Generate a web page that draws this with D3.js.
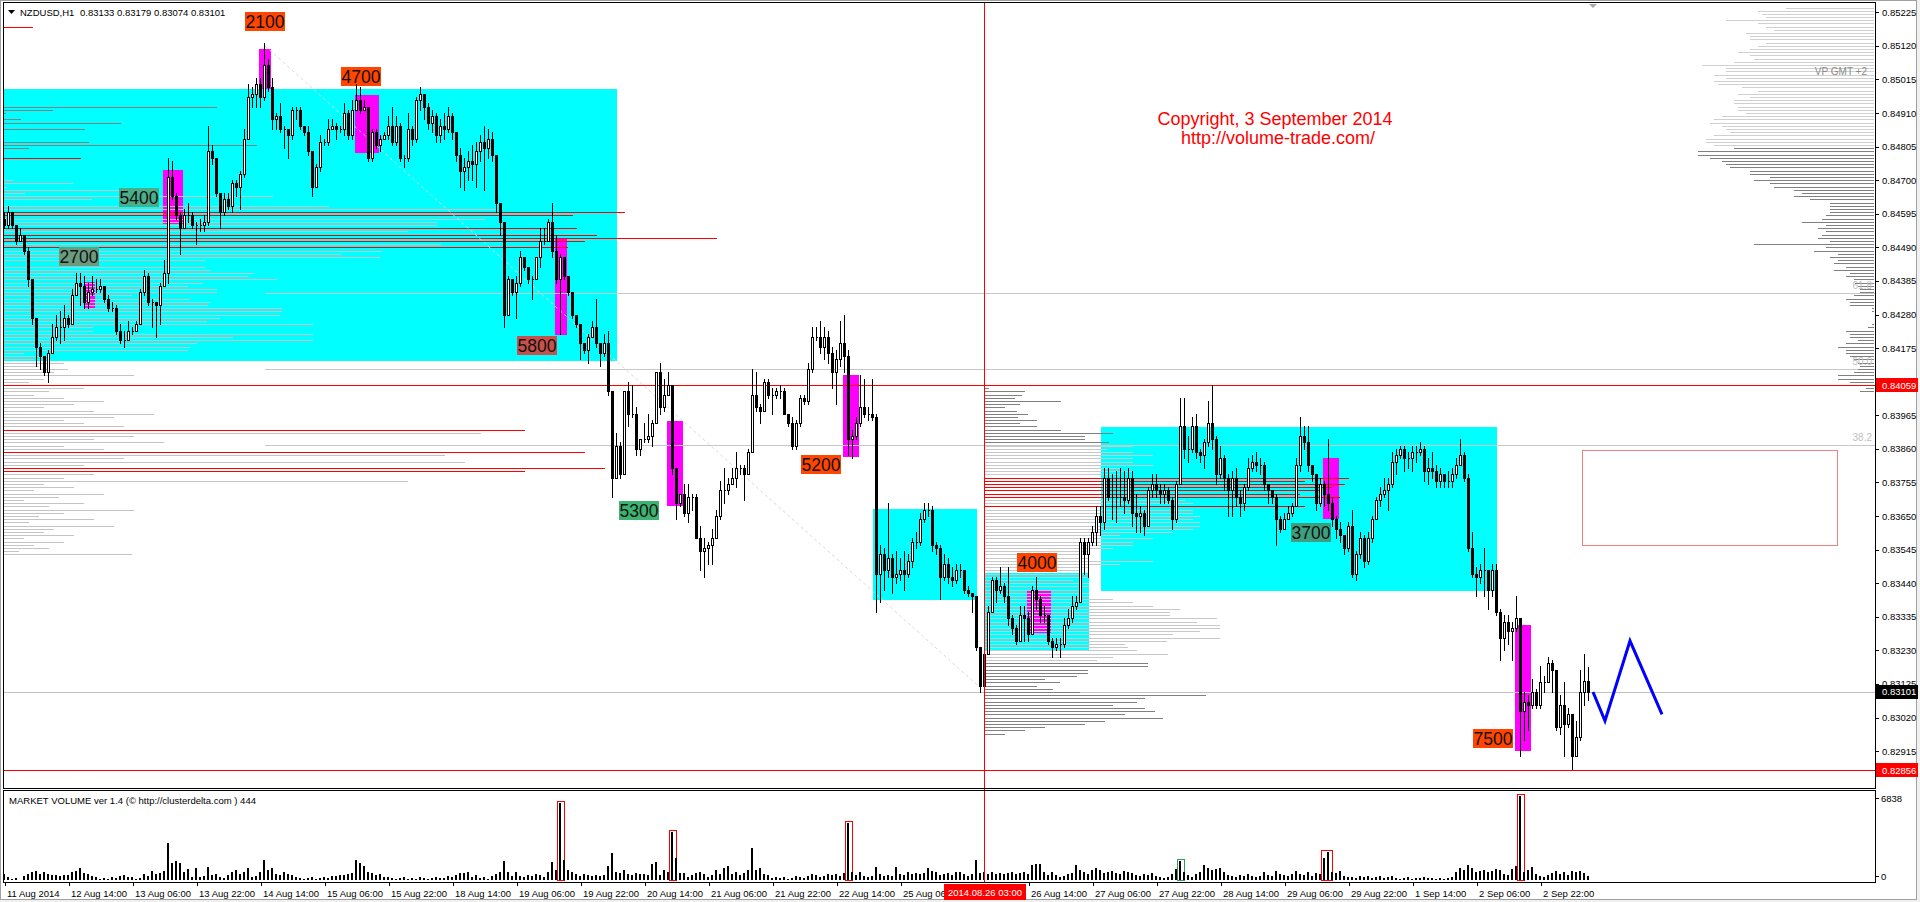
<!DOCTYPE html>
<html><head><meta charset="utf-8">
<script src="https://cdn.jsdelivr.net/npm/d3@7"></script>
<style>
html,body{margin:0;padding:0;background:#f0f0f0;overflow:hidden;}
svg{display:block;}
text{font-family:"Liberation Sans",Arial,sans-serif;}
</style></head><body>
<svg id="c" width="1920" height="902"></svg>
<script>
// ---------------- DATA ----------------
const symbolTitle = "NZDUSD,H1";
const lastOHLC = ["0.83133","0.83179","0.83074","0.83101"];
const firstOpen = 0.8458;
const closes = [
.8456,.8460,.8456,.8451,.8453,.8448,.8439,.8427,.8418,.8415,.8410,.8416,.8421,.8424,.8424,.8427,
.8425,.8434,.8438,.8437,.8432,.8435,.8436,.8436,.8437,.8433,.8430,.8430,.8423,.8420,.8420,.8423,
.8423,.8425,.8435,.8440,.8432,.8432,.8431,.8437,.8441,.8471,.8465,.8459,.8455,.8459,.8459,.8456,
.8456,.8456,.8457,.8479,.8477,.8466,.8460,.8464,.8462,.8469,.8468,.8472,.8483,.8496,.8497,.8500,
.8496,.8506,.8499,.8489,.8490,.8486,.8486,.8484,.8492,.8492,.8487,.8485,.8479,.8468,.8474,.8482,
.8482,.8486,.8487,.8486,.8486,.8491,.8484,.8492,.8495,.8492,.8493,.8477,.8485,.8481,.8483,.8484,
.8487,.8482,.8487,.8477,.8477,.8486,.8483,.8495,.8497,.8493,.8488,.8490,.8484,.8487,.8486,.8490,
.8485,.8478,.8473,.8474,.8476,.8475,.8479,.8482,.8480,.8483,.8478,.8463,.8457,.8428,.8439,.8435,
.8438,.8446,.8443,.8439,.8439,.8446,.8451,.8451,.8457,.8448,.8439,.8446,.8440,.8435,.8428,.8425,
.8419,.8417,.8421,.8424,.8419,.8416,.8419,.8404,.8377,.8387,.8378,.8404,.8397,.8397,.8386,.8389,
.8389,.8390,.8394,.8410,.8399,.8403,.8406,.8380,.8369,.8372,.8366,.8371,.8371,.8358,.8354,.8355,
.8356,.8358,.8365,.8373,.8373,.8375,.8377,.8380,.8380,.8378,.8385,.8403,.8399,.8398,.8407,.8403,
.8403,.8404,.8404,.8397,.8394,.8387,.8394,.8402,.8401,.8411,.8421,.8421,.8418,.8421,.8416,.8410,
.8414,.8419,.8415,.8389,.8390,.8394,.8399,.8397,.8397,.8396,.8347,.8353,.8348,.8352,.8346,.8347,
.8348,.8347,.8351,.8357,.8357,.8364,.8367,.8367,.8356,.8355,.8346,.8350,.8346,.8345,.8348,.8348,
.8342,.8341,.8340,.8324,.8312,.8322,.8335,.8345,.8342,.8343,.8340,.8333,.8330,.8326,.8334,.8333,
.8328,.8342,.8339,.8334,.8334,.8326,.8324,.8325,.8325,.8331,.8333,.8337,.8338,.8357,.8353,.8357,
.8360,.8365,.8363,.8377,.8371,.8371,.8371,.8371,.8370,.8377,.8366,.8365,.8366,.8362,.8373,.8375,
.8373,.8372,.8373,.8370,.8364,.8375,.8393,.8386,.8386,.8393,.8385,.8384,.8388,.8394,.8389,.8378,
.8383,.8377,.8373,.8377,.8371,.8369,.8374,.8380,.8382,.8381,.8381,.8375,.8373,.8371,.8364,.8361,
.8364,.8366,.8368,.8381,.8390,.8388,.8381,.8378,.8369,.8375,.8372,.8369,.8364,.8361,.8359,.8355,
.8362,.8347,.8353,.8358,.8351,.8358,.8364,.8370,.8372,.8373,.8375,.8382,.8384,.8386,.8383,.8383,
.8385,.8385,.8386,.8379,.8380,.8379,.8376,.8378,.8376,.8376,.8378,.8381,.8384,.8377,.8355,.8347,
.8346,.8348,.8348,.8342,.8348,.8335,.8327,.8332,.8329,.8330,.8333,.8304,.8307,.8306,.8310,.8306,
.8313,.8313,.8319,.8317,.8299,.8306,.8300,.8303,.8290,.8296,.8310,.83133,.83101];
const highs = [
.8460,.8462,.8459,.8456,.8455,.8453,.8449,.8439,.8427,.8419,.8415,.8417,.8425,.8428,.8429,.8431,
.8428,.8436,.8441,.8441,.8440,.8438,.8440,.8439,.8439,.8437,.8434,.8432,.8431,.8425,.8423,.8426,
.8424,.8426,.8436,.8442,.8441,.8433,.8432,.8438,.8445,.8477,.8476,.8466,.8460,.8461,.8463,.8460,
.8457,.8458,.8459,.8487,.8481,.8477,.8466,.8466,.8466,.8470,.8470,.8473,.8486,.8500,.8499,.8502,
.8502,.8513,.8508,.8502,.8491,.8494,.8487,.8486,.8493,.8493,.8493,.8487,.8487,.8479,.8475,.8484,
.8483,.8489,.8489,.8488,.8487,.8494,.8492,.8495,.8500,.8499,.8495,.8493,.8486,.8486,.8484,.8485,
.8490,.8493,.8490,.8488,.8478,.8491,.8487,.8496,.8499,.8496,.8494,.8492,.8491,.8489,.8491,.8493,
.8491,.8484,.8480,.8477,.8479,.8481,.8482,.8484,.8487,.8486,.8485,.8478,.8463,.8457,.8440,.8439,
.8440,.8448,.8446,.8443,.8440,.8446,.8455,.8455,.8458,.8463,.8453,.8447,.8446,.8440,.8435,.8428,
.8425,.8419,.8422,.8426,.8433,.8419,.8422,.8423,.8404,.8391,.8388,.8404,.8407,.8406,.8399,.8389,
.8394,.8397,.8395,.8410,.8413,.8408,.8410,.8406,.8380,.8372,.8375,.8375,.8372,.8372,.8362,.8358,
.8357,.8361,.8367,.8376,.8380,.8377,.8380,.8385,.8381,.8381,.8386,.8411,.8410,.8400,.8408,.8408,
.8405,.8405,.8406,.8405,.8397,.8396,.8395,.8403,.8403,.8413,.8424,.8424,.8426,.8424,.8423,.8418,
.8417,.8426,.8428,.8417,.8392,.8396,.8409,.8408,.8399,.8408,.8397,.8356,.8355,.8369,.8353,.8354,
.8352,.8354,.8353,.8358,.8360,.8366,.8369,.8369,.8368,.8357,.8356,.8353,.8352,.8349,.8350,.8350,
.8348,.8343,.8341,.8340,.8324,.8323,.8337,.8346,.8346,.8349,.8344,.8349,.8334,.8331,.8337,.8337,
.8335,.8343,.8346,.8340,.8337,.8334,.8327,.8327,.8327,.8333,.8336,.8340,.8340,.8358,.8358,.8358,
.8362,.8368,.8368,.8380,.8380,.8378,.8379,.8380,.8379,.8380,.8379,.8372,.8368,.8367,.8374,.8378,
.8378,.8375,.8375,.8374,.8371,.8376,.8402,.8402,.8390,.8396,.8397,.8386,.8389,.8401,.8406,.8390,
.8387,.8384,.8378,.8379,.8380,.8373,.8375,.8383,.8384,.8385,.8383,.8382,.8375,.8373,.8372,.8365,
.8366,.8368,.8369,.8383,.8396,.8393,.8393,.8381,.8378,.8377,.8376,.8389,.8371,.8365,.8363,.8359,
.8363,.8367,.8354,.8360,.8359,.8360,.8365,.8371,.8374,.8377,.8377,.8385,.8386,.8387,.8387,.8385,
.8387,.8387,.8388,.8387,.8383,.8385,.8381,.8380,.8378,.8379,.8380,.8383,.8389,.8385,.8378,.8360,
.8349,.8350,.8355,.8348,.8350,.8350,.8336,.8334,.8334,.8332,.8340,.8332,.8310,.8309,.8314,.8311,
.8318,.8315,.8321,.8320,.8316,.8309,.8313,.8305,.8303,.8301,.8317,.8322,.83179];
const lows = [
.8455,.8455,.8455,.8450,.8451,.8447,.8437,.8425,.8412,.8411,.8409,.8407,.8416,.8420,.8419,.8420,
.8424,.8425,.8434,.8431,.8430,.8430,.8434,.8435,.8435,.8432,.8429,.8429,.8422,.8419,.8418,.8420,
.8422,.8423,.8425,.8434,.8431,.8424,.8421,.8425,.8437,.8438,.8464,.8458,.8447,.8455,.8457,.8455,
.8450,.8454,.8454,.8456,.8475,.8465,.8455,.8459,.8461,.8460,.8465,.8461,.8471,.8483,.8493,.8493,
.8493,.8495,.8498,.8486,.8486,.8485,.8480,.8477,.8483,.8489,.8486,.8484,.8478,.8465,.8468,.8473,
.8481,.8481,.8486,.8483,.8485,.8484,.8483,.8483,.8493,.8491,.8492,.8476,.8476,.8480,.8479,.8483,
.8483,.8481,.8481,.8476,.8474,.8476,.8481,.8482,.8492,.8489,.8486,.8485,.8482,.8482,.8483,.8485,
.8483,.8476,.8468,.8467,.8470,.8470,.8468,.8476,.8467,.8477,.8476,.8460,.8453,.8424,.8428,.8434,
.8427,.8437,.8442,.8438,.8433,.8439,.8443,.8450,.8451,.8446,.8438,.8422,.8439,.8434,.8427,.8424,
.8414,.8416,.8413,.8421,.8418,.8412,.8415,.8403,.8371,.8377,.8377,.8378,.8393,.8396,.8384,.8384,
.8388,.8388,.8387,.8394,.8397,.8398,.8403,.8378,.8364,.8368,.8365,.8363,.8367,.8358,.8348,.8346,
.8350,.8350,.8358,.8364,.8369,.8372,.8375,.8374,.8378,.8370,.8378,.8385,.8398,.8394,.8398,.8402,
.8397,.8402,.8402,.8397,.8393,.8386,.8386,.8393,.8400,.8400,.8410,.8420,.8416,.8414,.8413,.8405,
.8400,.8412,.8410,.8384,.8383,.8389,.8393,.8396,.8395,.8395,.8335,.8338,.8342,.8346,.8341,.8344,
.8345,.8342,.8346,.8349,.8355,.8356,.8363,.8365,.8354,.8353,.8339,.8345,.8344,.8343,.8344,.8346,
.8341,.8340,.8335,.8323,.8310,.8310,.8322,.8335,.8338,.8341,.8338,.8331,.8328,.8325,.8326,.8326,
.8326,.8328,.8336,.8332,.8332,.8325,.8321,.8323,.8321,.8324,.8330,.8332,.8336,.8338,.8347,.8346,
.8356,.8356,.8359,.8361,.8370,.8364,.8363,.8368,.8366,.8369,.8362,.8360,.8360,.8359,.8362,.8371,
.8371,.8369,.8369,.8369,.8361,.8363,.8375,.8383,.8382,.8385,.8383,.8382,.8380,.8387,.8386,.8375,
.8377,.8373,.8365,.8365,.8368,.8365,.8367,.8373,.8379,.8379,.8378,.8373,.8369,.8369,.8356,.8360,
.8361,.8364,.8365,.8368,.8379,.8386,.8379,.8376,.8367,.8368,.8368,.8367,.8362,.8358,.8357,.8353,
.8354,.8346,.8345,.8352,.8349,.8350,.8357,.8364,.8368,.8371,.8367,.8374,.8378,.8383,.8379,.8380,
.8379,.8382,.8384,.8376,.8375,.8377,.8374,.8374,.8374,.8374,.8374,.8377,.8381,.8376,.8354,.8346,
.8340,.8344,.8340,.8336,.8340,.8334,.8320,.8323,.8325,.8320,.8329,.8290,.8295,.8298,.8305,.8305,
.8305,.8310,.8313,.8310,.8298,.8297,.8290,.8299,.8286,.8290,.8295,.8306,.83074];
const volumes = [
490,240,80,160,40,330,490,650,730,490,650,490,410,410,330,410,
410,650,730,980,570,490,330,240,120,160,100,240,160,330,410,240,
240,80,160,490,330,730,490,570,730,3010,1380,1550,1380,650,900,240,
980,240,330,1060,410,490,240,160,410,650,810,490,650,980,240,330,
650,1630,810,980,490,410,650,490,410,240,160,80,160,240,80,160,
240,160,330,330,410,410,490,570,1630,1380,1140,650,570,410,490,240,
240,160,80,160,240,80,160,80,240,160,80,160,240,160,160,330,
240,410,570,570,650,240,410,160,240,80,330,490,650,1550,650,330,
650,330,240,410,330,490,410,240,650,1470,810,6270,1630,810,650,490,
330,490,410,330,410,330,410,1140,2200,650,570,810,490,410,570,490,
490,410,1300,1470,410,810,650,3900,1790,570,570,240,410,570,650,490,
240,410,810,490,980,1140,490,650,410,570,810,2600,810,980,490,410,
160,240,160,240,80,160,330,240,160,330,490,410,240,330,490,410,
490,330,570,4640,650,410,650,330,240,330,1060,490,330,410,330,1060,
490,410,650,490,570,490,570,980,730,650,410,490,570,410,650,650,
490,330,490,1630,570,650,490,650,490,570,490,570,650,490,570,650,
490,1220,1300,1300,650,410,650,410,240,330,490,570,1220,810,650,490,
810,980,810,570,650,730,570,490,730,650,570,410,330,490,410,570,
330,240,160,240,490,900,1550,650,410,240,490,650,1220,980,810,900,
980,650,410,330,240,410,330,490,330,240,330,650,410,330,730,490,
410,330,490,730,490,410,650,330,570,490,1790,2280,650,570,730,330,
240,240,160,330,240,330,160,240,330,160,240,330,160,80,160,240,
80,160,160,240,160,160,80,160,80,160,240,650,980,810,1220,980,
650,730,810,650,730,900,810,490,410,900,1140,6838,650,810,1060,490,
330,240,410,570,730,490,650,410,730,650,730,570,330];
const volumeMax = 6838;
// highlighted volume bars [startBar, endBar, colour]
const volumeMarks = [[139,139,"#ff0000"],[167,167,"#ff0000"],[211,211,"#ff0000"],[294,294,"#2e9e58"],[330,331,"#ff0000"],[379,379,"#ff0000"]];

const priceTicks = [0.85225,0.85120,0.85015,0.84910,0.84805,0.84700,0.84595,0.84490,0.84385,0.84280,0.84175,0.84070,0.83965,0.83860,0.83755,0.83650,0.83545,0.83440,0.83335,0.83230,0.83125,0.83020,0.82915,0.82810];
const timeLabels = [[0,"11 Aug 2014"],[16,"12 Aug 14:00"],[32,"13 Aug 06:00"],[48,"13 Aug 22:00"],[64,"14 Aug 14:00"],[80,"15 Aug 06:00"],[96,"15 Aug 22:00"],[112,"18 Aug 14:00"],[128,"19 Aug 06:00"],[144,"19 Aug 22:00"],[160,"20 Aug 14:00"],[176,"21 Aug 06:00"],[192,"21 Aug 22:00"],[208,"22 Aug 14:00"],[224,"25 Aug 06:00"],[256,"26 Aug 14:00"],[272,"27 Aug 06:00"],[288,"27 Aug 22:00"],[304,"28 Aug 14:00"],[320,"29 Aug 06:00"],[336,"29 Aug 22:00"],[352,"1 Sep 14:00"],[368,"2 Sep 06:00"],[384,"2 Sep 22:00"]];
const cursorBar = 245;
const cursorLabel = "2014.08.26 03:00";

// cyan zones [bar0, bar1, priceTop, priceBottom]
const zones = [[-0.25,153,0.84985,0.84135],[217,243,0.83673,0.83388],[245,271,0.83472,0.83231],[274,373,0.83928,0.83416]];
// magenta high-volume candles [bar0, bar1, priceTop, priceBottom]
const hotBars = [[64,66,0.85110,0.84985],[88,93,0.84966,0.84785],[40,44,0.84732,0.84563],[20.25,22,0.84382,0.84301],[138,140,0.84519,0.84216],[166,169,0.83947,0.83682],[210,213,0.84090,0.83834],[256,261,0.83419,0.83285],[330,333,0.83831,0.83641],[378,381,0.83310,0.82916]];
// cluster volume labels [text, bar, price, colour]
const clusterLabels = [["2100",65,0.85195,"#ff4500"],["4700",89,0.85023,"#ff4500"],["5400",33.5,0.84646,"#4aae8a"],["2700",18.5,0.84463,"#6b9b7f"],["5800",133,0.84183,"#c9514b"],["5300",158.5,0.83667,"#3cb371"],["5200",204,0.83810,"#ff4500"],["4000",258,0.83505,"#ff4500"],["3700",326.5,0.83599,"#3e9f7f"],["7500",372,0.82953,"#ff4500"]];

const redLevels = [0.84059, 0.82856];
const currentPrice = 0.83101;
const fibLevels = [0.84347, 0.84109, 0.83871];
const fibTexts = ["61.8","50.0","38.2"];
const fibStartBar = 65;
const fibTrend = [[65,0.8512],[245,0.8310]];
const forecast = [[397,0.8310],[400,0.8301],[406.25,0.8326],[414.25,0.8303]];
const targetZone = [394.25,458,0.83857,0.83560];

// volume profiles: lengths per 1-pip level, from the top price downward
const profileAStart = 0.8493;
const profileA = [213,49,2,0,17,117,0,81,0,0,0,85,253,25,0,0,77,
0,0,0,0,0,0,
9,69,3,129,21,269,88,0,325,
493,621,569,481,433,433,573,404,593,713,581,437,564,
378,338,376,201,0,201,206,250,244,273,199,184,213,213,128,186,206,204,278,278,276,216,203,309,89,89,309,229,309,193,186,184,
20,45,30,60,35,64,50,130,40,25,55,80,45,30,60,100,70,40,90,150,110,60,80,120,
521,477,130,90,160,60,100,581,441,120,461,80,601,521,90,60,404,
40,70,30,100,55,20,80,45,130,60,35,90,25,110,50,40,70,20,60,30,45,15,128];
const profileARed = [16,33,34,38,40,41,42,44,101,108,113,114];
const profileADark = 16;
const profileAExtra = [0.8518, 29];

const profileBStart = 0.8405;
const profileBBar = 245;
const profileB = [4,40,37,30,76,35,20,32,43,33,52,35,52,76,128,100,100,124,
148,122,148,168,148,148,168,135,148,135,
364,320,360,347,335,315,355,
200,208,320,
208,208,215,208,215,215,208,188,135,168,148,148,128,104,104,104,168,135,104,96,104,104,88,104,104,96,104,104,
128,148,168,195,185,185,232,212,235,235,215,188,235,182,140,143,152,183,128,112,
163,163,103,103,92,60,75,52,68,95,221,160,152,128,160,170,140,178,120,100,60,40,20];
const profileBRed = [28,29,30,31,32,33,34,37];

const profileCStart = 0.8524;
const profileC = [88,116,112,108,148,116,108,100,128,124,124,108,116,124,136,124,120,140,172,148,148,160,148,160,156,132,116,136,124,140,140,136,136,128,152,160,164,152,148,144,160,168,168,160,
140,176,176,164,152,148,144,124,124,104,120,104,100,80,72,80,64,44,44,44,44,48,52,72,48,56,48,52,56,44,120,48,60,36,44,36,40,28,40,24,28,20,19,16,14,14,20,28,24,24,2,2,0,0,0,2,6,28,24,24,16,28,36,28,28,24,20,16,14,16,20,36,36,24,40,8,14];
const profileCLight = 44;

// ---------------- DRAW ----------------
const svg = d3.select("#c");
const P = {l:4, r:1875, t:3, b:788};
const V = {t:791, b:882};
const x = d3.scaleLinear().domain([0,100]).range([5,405]);
const y = d3.scaleLinear().domain([0.85225,0.82856]).range([12.3,770]);
const yv = d3.scaleLinear().domain([0,volumeMax]).range([880,796]);
const len = d3.scaleLinear().domain([0,100]).range([0,100]);
const px = v => Math.round(v)+0.5;

svg.append("rect").attr("x",0).attr("y",0).attr("width",1917).attr("height",900).attr("fill","#ffffff");
svg.append("rect").attr("x",0.5).attr("y",0.5).attr("width",1916).attr("height",899).attr("fill","none").attr("stroke","#a0a0a0");

svg.append("clipPath").attr("id","mainclip").append("rect").attr("x",P.l).attr("y",P.t).attr("width",P.r-P.l).attr("height",P.b-P.t);
svg.append("clipPath").attr("id","volclip").append("rect").attr("x",P.l).attr("y",V.t).attr("width",P.r-P.l).attr("height",V.b-V.t);
const g = svg.append("g").attr("clip-path","url(#mainclip)").attr("shape-rendering","crispEdges");

// zones
zones.forEach(z=>{
  g.append("rect").attr("x",Math.round(x(z[0]))).attr("width",Math.round(x(z[1]))-Math.round(x(z[0])))
   .attr("y",Math.round(y(z[2]))).attr("height",Math.round(y(z[3]))-Math.round(y(z[2]))).attr("fill","#00ffff");
});
// hot bars
hotBars.forEach(h=>{
  g.append("rect").attr("x",Math.round(x(h[0]))-2).attr("width",Math.round(x(h[1]))-Math.round(x(h[0]))+4)
   .attr("y",Math.round(y(h[2]))).attr("height",Math.round(y(h[3]))-Math.round(y(h[2]))).attr("fill","#ff00ff");
});

// fib lines and current price
fibLevels.forEach((f,i)=>{
  g.append("line").attr("x1",x(fibStartBar)).attr("x2",P.r).attr("y1",px(y(f))).attr("y2",px(y(f))).attr("stroke","#c8c8c8");
});
g.append("line").attr("x1",P.l).attr("x2",P.r).attr("y1",px(y(currentPrice))).attr("y2",px(y(currentPrice))).attr("stroke","#c0c0c0");

// profiles
function hline(x1,x2,yy,col){ g.append("line").attr("x1",x1).attr("x2",x2).attr("y1",yy).attr("y2",yy).attr("stroke",col).attr("stroke-width",1); }
profileA.forEach((v,k)=>{
  if(!v) return;
  const yy = px(y(profileAStart - k*0.0001));
  const col = profileARed.includes(k) ? "#ff0000" : (k < profileADark ? "#808080" : "#c4c4c4");
  hline(P.l, P.l+len(v), yy, col);
});
hline(P.l, P.l+len(profileAExtra[1]), px(y(profileAExtra[0])), "#ff0000");
const bx = Math.round(x(profileBBar));
profileB.forEach((v,k)=>{
  if(!v) return;
  const yy = px(y(profileBStart - k*0.0001));
  let col = (k < 18 || k >= 86) ? "#808080" : "#c8c8c8";
  if(profileBRed.includes(k)) col = "#ff0000";
  hline(bx, bx+len(v), yy, col);
});
profileC.forEach((v,k)=>{
  if(!v) return;
  const yy = px(y(profileCStart - k*0.0001));
  hline(P.r-1-len(v), P.r-1, yy, k < profileCLight ? "#d0d0d0" : "#808080");
});
fibLevels.forEach((f,i)=>{
  g.append("text").attr("x",P.r-3).attr("y",y(f)-4).attr("text-anchor","end").attr("font-size","10px").attr("fill","#c0c0c0").text(fibTexts[i]);
});
clusterLabels.forEach(c=>{
  const cx = x(c[1]), cy = y(c[2]);
  g.append("rect").attr("x",Math.round(cx-20)).attr("y",Math.round(cy-9.5)).attr("width",40).attr("height",19).attr("fill",c[3]);
  g.append("text").attr("x",cx).attr("y",cy+6.5).attr("text-anchor","middle").attr("font-size","17.5px").attr("fill","#111").text(c[0]);
});

// red levels
redLevels.forEach(r=>{ hline(P.l, P.r, px(y(r)), "#ff0000"); });

// fib trend dashed
g.append("line").attr("x1",x(fibTrend[0][0])).attr("y1",y(fibTrend[0][1])).attr("x2",x(fibTrend[1][0])).attr("y2",y(fibTrend[1][1]))
 .attr("stroke","#d8d8d8").attr("stroke-dasharray","3,3").attr("shape-rendering","auto");

// candles
const cg = g.append("g");
closes.forEach((c,i)=>{
  const o = i===0 ? firstOpen : closes[i-1];
  const hi = Math.max(highs[i],o,c), lo = Math.min(lows[i],o,c);
  const cx = px(x(i)) - 1;
  cg.append("line").attr("x1",cx).attr("x2",cx).attr("y1",Math.round(y(hi))).attr("y2",Math.round(y(lo))+1).attr("stroke","#000");
  const yt = px(y(Math.max(o,c))), yb = px(y(Math.min(o,c)));
  cg.append("path").attr("d",`M${cx-1},${yt}H${cx+1}V${yb}H${cx-1}Z`).attr("fill", c>o ? "#ffffff" : "#000000").attr("stroke","#000");
});

// target zone and forecast
g.append("rect").attr("x",px(x(targetZone[0]))).attr("y",px(y(targetZone[2]))).attr("width",Math.round(x(targetZone[1])-x(targetZone[0])))
 .attr("height",Math.round(y(targetZone[3])-y(targetZone[2]))).attr("fill","none").attr("stroke","#f08080");
g.append("path").attr("d",d3.line().x(d=>x(d[0])).y(d=>y(d[1]))(forecast)).attr("fill","none").attr("stroke","#0000ff").attr("stroke-width",3).attr("shape-rendering","auto");

// texts
svg.append("text").attr("x",1275).attr("y",125).attr("text-anchor","middle").attr("font-size","18px").attr("fill","#ff0000").text("Copyright, 3 September 2014");
svg.append("text").attr("x",1278).attr("y",144).attr("text-anchor","middle").attr("font-size","18px").attr("fill","#ff0000").text("http://volume-trade.com/");
svg.append("text").attr("x",1867).attr("y",75).attr("text-anchor","end").attr("font-size","10px").attr("fill","#8a8a8a").text("VP GMT +2");
svg.append("path").attr("d","M8,10L15,10L11.5,14Z").attr("fill","#000");
svg.append("text").attr("x",20).attr("y",16).attr("font-size","9.5px").attr("fill","#000").text(symbolTitle);
svg.append("text").attr("x",80).attr("y",16).attr("font-size","9.5px").attr("fill","#000").text(lastOHLC.join(" "));
svg.append("path").attr("d",`M${x(397)-4},4L${x(397)+4},4L${x(397)},8Z`).attr("fill","#a8a8a8");

// volume panel
const vg = svg.append("g").attr("clip-path","url(#volclip)").attr("shape-rendering","crispEdges");
volumeMarks.forEach(m=>{
  const vmax = d3.max(volumes.slice(m[0],m[1]+1));
  const x0 = Math.round(x(m[0]))-4, x1 = Math.round(x(m[1]))+3;
  vg.append("rect").attr("x",x0+0.5).attr("y",Math.round(yv(vmax))-1.5).attr("width",x1-x0).attr("height",880-Math.round(yv(vmax))+1.5).attr("fill","#fff").attr("stroke",m[2]);
});
volumes.forEach((v,i)=>{
  const t = Math.round(yv(v));
  vg.append("rect").attr("x",Math.round(x(i))-2).attr("width",2).attr("y",t).attr("height",880-t).attr("fill","#000");
});
svg.append("text").attr("x",9).attr("y",804).attr("font-size","9.5px").attr("fill","#000").attr("textLength",247).attr("lengthAdjust","spacingAndGlyphs").text("MARKET VOLUME ver 1.4 (\u00a9 http://clusterdelta.com ) 444");

// cursor vertical line
svg.append("line").attr("x1",px(x(cursorBar))-1).attr("x2",px(x(cursorBar))-1).attr("y1",P.t).attr("y2",V.b).attr("stroke","#ff0000").attr("shape-rendering","crispEdges");

// frames
const fr = svg.append("g").attr("fill","none").attr("stroke","#000").attr("shape-rendering","crispEdges");
fr.append("rect").attr("x",P.l-0.5).attr("y",P.t-0.5).attr("width",P.r-P.l+1).attr("height",P.b-P.t+1);
fr.append("rect").attr("x",P.l-0.5).attr("y",V.t-0.5).attr("width",P.r-P.l+1).attr("height",V.b-V.t+1);

// price axis
const ax = svg.append("g");
priceTicks.forEach(v=>{
  let yy = y(v); if(yy > 776) yy = 773;
  ax.append("line").attr("x1",P.r+1).attr("x2",P.r+4).attr("y1",px(yy)).attr("y2",px(yy)).attr("stroke","#000").attr("shape-rendering","crispEdges");
  ax.append("text").attr("x",P.r+7).attr("y",yy+3.5).attr("font-size","9.5px").attr("fill","#000").text(v.toFixed(5));
});
[[redLevels[0],"#ff0000"],[currentPrice,"#000000"],[redLevels[1],"#ff0000"]].forEach(m=>{
  const yy = y(m[0]);
  ax.append("rect").attr("x",P.r+1).attr("y",Math.round(yy)-7).attr("width",42).attr("height",14).attr("fill",m[1]);
  ax.append("text").attr("x",P.r+7).attr("y",yy+3.5).attr("font-size","9.5px").attr("fill","#fff").text(m[0].toFixed(5));
});
[[volumeMax,798],[0,876]].forEach(d=>{
  ax.append("line").attr("x1",P.r+1).attr("x2",P.r+4).attr("y1",d[1]+0.5).attr("y2",d[1]+0.5).attr("stroke","#000");
  ax.append("text").attr("x",P.r+6).attr("y",d[1]+3.5).attr("font-size","9.5px").attr("fill","#000").text(String(d[0]));
});

// time axis
const cxl = Math.round(x(cursorBar));
timeLabels.forEach(t=>{
  const xx = Math.round(x(t[0]));
  ax.append("line").attr("x1",xx+0.5).attr("x2",xx+0.5).attr("y1",V.b).attr("y2",V.b+4).attr("stroke","#000").attr("shape-rendering","crispEdges");
  ax.append("text").attr("x",xx+2).attr("y",897).attr("font-size","9.5px").attr("fill","#000").text(t[1]);
});
ax.append("rect").attr("x",cxl-41).attr("y",884).attr("width",82).attr("height",16).attr("fill","#ff0000");
ax.append("text").attr("x",cxl).attr("y",896).attr("text-anchor","middle").attr("font-size","9.5px").attr("fill","#fff").text(cursorLabel);
</script>
</body></html>
